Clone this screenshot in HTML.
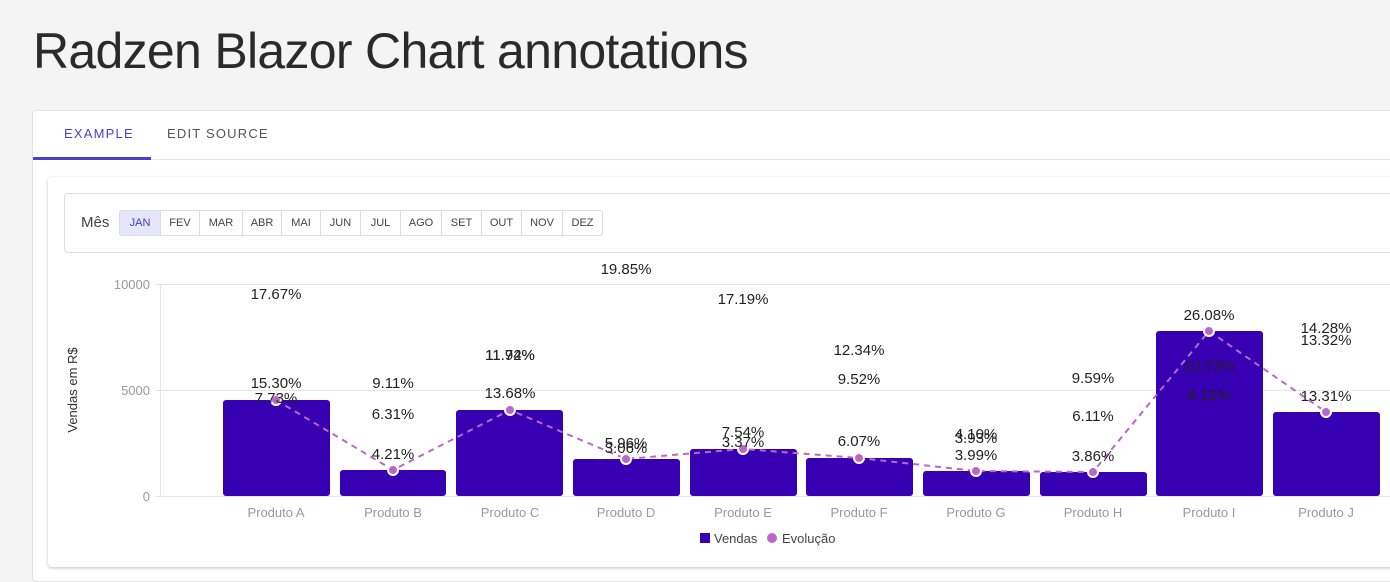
<!DOCTYPE html>
<html><head><style>
body{margin:0;width:1390px;height:573px;background:#f4f4f4;font-family:"Liberation Sans",sans-serif;overflow:hidden;position:relative}
h1{position:absolute;left:33px;top:22px;margin:0;font-weight:normal;font-size:50px;letter-spacing:-0.7px;color:#2a2a2a}
.card{position:absolute;left:32px;top:110px;width:1370px;height:470px;background:#fff;border:1px solid #e2e2e2;border-radius:4px}
.tab{position:absolute;top:126px;font-size:13px;letter-spacing:1.2px;color:#555}
.inner{position:absolute;left:48px;top:177px;width:1350px;height:390px;background:#fff;border-radius:4px;box-shadow:0 1px 3px rgba(0,0,0,.25)}
.filter{position:absolute;left:64px;top:193px;width:1340px;height:58px;border:1px solid #ddd;border-radius:4px}
.btns{position:absolute;left:119px;top:210px;display:flex;border:1px solid #ddd;border-radius:3px;overflow:hidden}
.btns span{font-size:11px;color:#444;padding:0;height:24px;line-height:24px;text-align:center;border-left:1px solid #ddd}
.btns span:first-child{border-left:none;background:#e6e6fa;color:#4040c0}
</style></head><body>
<h1>Radzen Blazor Chart annotations</h1>
<div class="card"></div>
<div class="tab" style="left:64px;color:#4b3fcf">EXAMPLE</div>
<div class="tab" style="left:167px">EDIT SOURCE</div>
<div style="position:absolute;left:33px;top:159px;width:1360px;height:1px;background:#e2e2e2"></div>
<div style="position:absolute;left:33px;top:157px;width:118px;height:3px;background:#4b3fcf"></div>
<div class="inner"></div>
<div class="filter"></div>
<div style="position:absolute;left:81px;top:214px;font-size:15px;color:#444">Mês</div>
<div class="btns">
<span style="width:40px">JAN</span><span style="width:38px">FEV</span><span style="width:42px">MAR</span><span style="width:38px">ABR</span><span style="width:38px">MAI</span><span style="width:39px">JUN</span><span style="width:39px">JUL</span><span style="width:40px">AGO</span><span style="width:39px">SET</span><span style="width:39px">OUT</span><span style="width:40px">NOV</span><span style="width:39px">DEZ</span>
</div>
<svg style="position:absolute;left:0;top:0" width="1390" height="573" font-family="Liberation Sans, sans-serif">
<g stroke="#e6e6e6" stroke-width="1">
<line x1="155" y1="284.5" x2="1390" y2="284.5"/><line x1="155" y1="390.5" x2="1390" y2="390.5"/><line x1="155" y1="496.5" x2="1390" y2="496.5"/>
<line x1="160.5" y1="284" x2="160.5" y2="496"/>
</g>
<g font-size="13" fill="#999" text-anchor="end">
<text x="150" y="289">10000</text><text x="150" y="395">5000</text><text x="150" y="501">0</text>
</g>
<text transform="translate(77,390) rotate(-90)" font-size="13" fill="#333" text-anchor="middle">Vendas em R$</text>
<g fill="#3700b3">
<rect x="223" y="400" width="107" height="96" rx="3"/>
<rect x="340" y="470" width="106" height="26" rx="3"/>
<rect x="456" y="410" width="107" height="86" rx="3"/>
<rect x="573" y="459" width="107" height="37" rx="3"/>
<rect x="690" y="449" width="107" height="47" rx="3"/>
<rect x="806" y="458" width="107" height="38" rx="3"/>
<rect x="923" y="471" width="107" height="25" rx="3"/>
<rect x="1040" y="472" width="107" height="24" rx="3"/>
<rect x="1156" y="331" width="107" height="165" rx="3"/>
<rect x="1273" y="412" width="107" height="84" rx="3"/>
</g>
<polyline fill="none" stroke="#ba68c8" stroke-width="2" stroke-dasharray="6,5" points="276,400 393,470 510,410 626,459 743,449 859,458 976,471 1093,472 1209,331 1326,412"/>
<g fill="#ba68c8" stroke="#fff" stroke-width="2">
<circle cx="276" cy="400" r="5"/><circle cx="393" cy="470" r="5"/><circle cx="510" cy="410" r="5"/><circle cx="626" cy="459" r="5"/><circle cx="743" cy="449" r="5"/><circle cx="859" cy="458" r="5"/><circle cx="976" cy="471" r="5"/><circle cx="1093" cy="472" r="5"/><circle cx="1209" cy="331" r="5"/><circle cx="1326" cy="412" r="5"/>
</g>
<g font-size="15" fill="#222" text-anchor="middle">
<text x="276" y="299">17.67%</text><text x="276" y="388">15.30%</text><text x="276" y="403">7.73%</text>
<text x="393" y="388">9.11%</text><text x="393" y="419">6.31%</text><text x="393" y="459">4.21%</text>
<text x="510" y="360">11.94%</text><text x="510" y="360">11.72%</text><text x="510" y="398">13.68%</text>
<text x="626" y="274">19.85%</text><text x="626" y="448">5.96%</text><text x="626" y="453">3.06%</text>
<text x="743" y="304">17.19%</text><text x="743" y="437">7.54%</text><text x="743" y="447">3.37%</text>
<text x="859" y="355">12.34%</text><text x="859" y="384">9.52%</text><text x="859" y="446">6.07%</text>
<text x="976" y="439">4.10%</text><text x="976" y="443">3.93%</text><text x="976" y="460">3.99%</text>
<text x="1093" y="383">9.59%</text><text x="1093" y="421">6.11%</text><text x="1093" y="461">3.86%</text>
<text x="1209" y="320">26.08%</text><text x="1209" y="371">10.73%</text><text x="1209" y="400">8.12%</text>
<text x="1326" y="333">14.28%</text><text x="1326" y="345">13.32%</text><text x="1326" y="401">13.31%</text>
</g>
<g font-size="13" fill="#999" text-anchor="middle">
<text x="276" y="517">Produto A</text><text x="393" y="517">Produto B</text><text x="510" y="517">Produto C</text><text x="626" y="517">Produto D</text><text x="743" y="517">Produto E</text><text x="859" y="517">Produto F</text><text x="976" y="517">Produto G</text><text x="1093" y="517">Produto H</text><text x="1209" y="517">Produto I</text><text x="1326" y="517">Produto J</text>
</g>
<rect x="700" y="533" width="10" height="10" fill="#3700b3"/>
<text x="714" y="543" font-size="13" fill="#444">Vendas</text>
<circle cx="772" cy="538" r="5" fill="#ba68c8"/>
<text x="782" y="543" font-size="13" fill="#444">Evolução</text>
</svg>
</body></html>
